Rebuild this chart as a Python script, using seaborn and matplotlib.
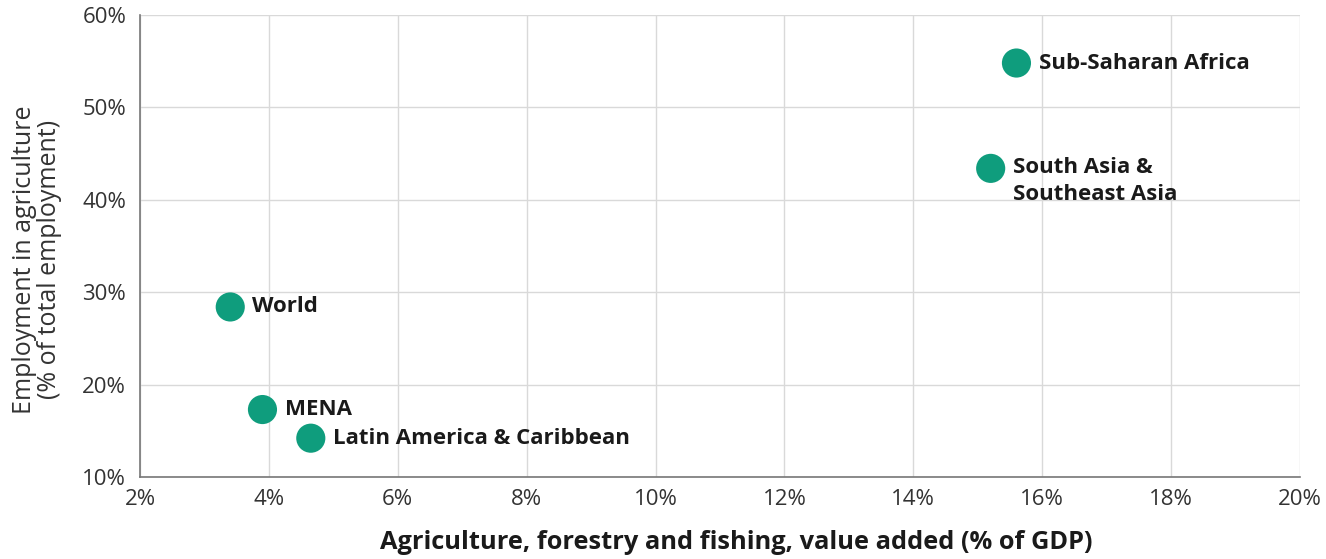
import pandas as pd
import seaborn as sns
import matplotlib.pyplot as plt
from matplotlib.ticker import PercentFormatter

# data
regions = ["Sub-Saharan Africa", "South Asia &\nSoutheast Asia", "World", "MENA", "Latin America & Caribbean"]
ag_value_added = [15.6, 15.2, 3.4, 3.9, 4.65]   # % of GDP
ag_employment = [54.8, 43.4, 28.4, 17.3, 14.2]  # % of total employment
x_ticks = [2, 4, 6, 8, 10, 12, 14, 16, 18, 20]
y_ticks = [10, 20, 30, 40, 50, 60]

df = pd.DataFrame({"region": regions, "x": ag_value_added, "y": ag_employment})

sns.set_theme(style="whitegrid")
plt.rcParams["font.family"] = ["Open Sans", "DejaVu Sans"]

fig = plt.figure(figsize=(13.26, 5.59), dpi=100)
ax = fig.add_axes([0.1056, 0.1467, 0.8748, 0.8265])

sns.scatterplot(data=df, x="x", y="y", ax=ax, s=440, color="#0f9d7d",
                edgecolor="none", zorder=3, legend=False)

for _, r in df.iterrows():
    if "\n" in r["region"]:
        ax.annotate(r["region"], (r["x"], r["y"]), xytext=(16, 8), textcoords="offset points",
                    ha="left", va="top", fontsize=16, fontweight="bold", color="#1a1a1a",
                    linespacing=1.35)
    else:
        ax.annotate(r["region"], (r["x"], r["y"]), xytext=(16, 0), textcoords="offset points",
                    ha="left", va="center", fontsize=16, fontweight="bold", color="#1a1a1a")

ax.set_xlim(2, 20)
ax.set_ylim(10, 60)
ax.set_xticks(x_ticks)
ax.set_yticks(y_ticks)
ax.xaxis.set_major_formatter(PercentFormatter(decimals=0))
ax.yaxis.set_major_formatter(PercentFormatter(decimals=0))
ax.tick_params(axis="both", labelsize=16, colors="#333333", length=0)
ax.tick_params(axis="y", pad=10)
ax.tick_params(axis="x", pad=9)

ax.grid(True, color="#d9d9d9", linewidth=1)
for side in ["top", "right"]:
    ax.spines[side].set_visible(False)
for side in ["left", "bottom"]:
    ax.spines[side].set_color("#777777")
    ax.spines[side].set_linewidth(1.2)

ax.set_xlabel("Agriculture, forestry and fishing, value added (% of GDP)",
              fontsize=18.3, fontweight="bold", color="#1a1a1a", labelpad=5)
ax.xaxis.set_label_coords(0.514, -0.115)
ax.set_ylabel("Employment in agriculture\n(% of total employment)",
              fontsize=18, color="#333333", linespacing=1.0)
ax.yaxis.set_label_coords(-0.067, 0.47)

fig.savefig("out.png", dpi=100)
